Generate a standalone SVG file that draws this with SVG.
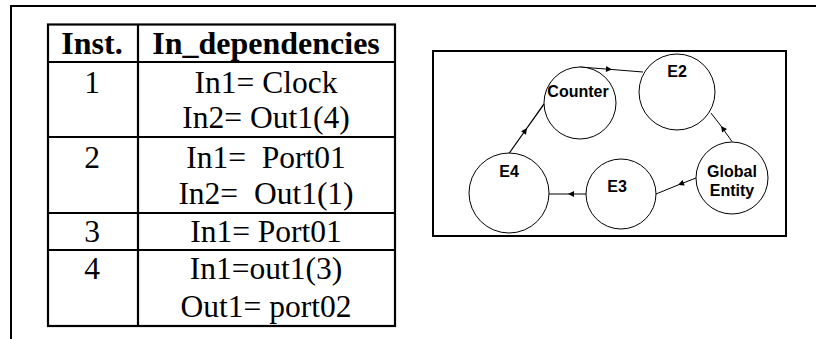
<svg xmlns="http://www.w3.org/2000/svg" width="816" height="339" viewBox="0 0 816 339">
<defs>
<style>
.frame{fill:none;stroke:#000;stroke-width:2}
.grid{fill:none;stroke:#000;stroke-width:2.2}
.th{font-family:"Liberation Serif","Times New Roman",serif;font-weight:bold;font-size:32px;text-anchor:middle;fill:#000}
.td{font-family:"Liberation Serif","Times New Roman",serif;font-size:31.5px;text-anchor:middle;fill:#000;white-space:pre}
.node circle{fill:#fff;stroke:#000;stroke-width:1}
.node text{font-family:"Liberation Sans",Arial,sans-serif;font-weight:bold;font-size:16px;text-anchor:middle;fill:#000}
.conn{fill:none;stroke:#000;stroke-width:1;marker-mid:url(#arr)}
</style>
<marker id="arr" viewBox="0 0 10 10" refX="10" refY="5" markerWidth="9" markerHeight="6" markerUnits="userSpaceOnUse" orient="auto">
<path d="M0,0 L10,5 L0,10 z" fill="#000"/>
</marker>
</defs>
<rect width="816" height="339" fill="#fff"/>
<path class="frame" d="M11,339 V6 H816"/>
<g id="table">
<rect class="grid" x="48" y="24.5" width="347" height="301.5"/>
<path class="grid" d="M138,24.5 V326 M48,62 H395 M48,137 H395 M48,213 H395 M48,250 H395"/>
<text class="th" x="92" y="54">Inst.</text>
<text class="th" x="266" y="54">In_dependencies</text>
<text class="td" x="92" y="93">1</text>
<text class="td" x="266" y="93">In1= Clock</text>
<text class="td" x="266" y="128">In2= Out1(4)</text>
<text class="td" x="92" y="168">2</text>
<text class="td" x="266" y="168" xml:space="preserve">In1=  Port01</text>
<text class="td" x="266" y="204" xml:space="preserve">In2=  Out1(1)</text>
<text class="td" x="92" y="242">3</text>
<text class="td" x="266" y="242">In1= Port01</text>
<text class="td" x="92" y="279">4</text>
<text class="td" x="266" y="279">In1=out1(3)</text>
<text class="td" x="266" y="317">Out1= port02</text>
</g>
<rect class="frame" x="433" y="51" width="353" height="185"/>
<g id="connectors">
<path class="conn" d="M580,67 L612,69.5 L643,72"/>
<path class="conn" d="M509,153.5 L527,128 L544,104" style="stroke-width:1.3"/>
<path class="conn" d="M732,141.5 L721,126 L711,113"/>
<path class="conn" d="M696,178 L678,185 L656,194"/>
<path class="conn" d="M586,194 L568,194 L549,194"/>
</g>
<g id="counter" class="node"><circle cx="580" cy="103" r="36"/><text x="578" y="97">Counter</text></g>
<g id="e2" class="node"><circle cx="677" cy="92" r="38"/><text x="677" y="77">E2</text></g>
<g id="global" class="node"><circle cx="732" cy="178" r="36"/><text x="732" y="177">Global</text><text x="732" y="196">Entity</text></g>
<g id="e3" class="node"><circle cx="621" cy="194" r="35"/><text x="617" y="192">E3</text></g>
<g id="e4" class="node"><circle cx="509" cy="193" r="40"/><text x="509" y="177">E4</text></g>
</svg>
